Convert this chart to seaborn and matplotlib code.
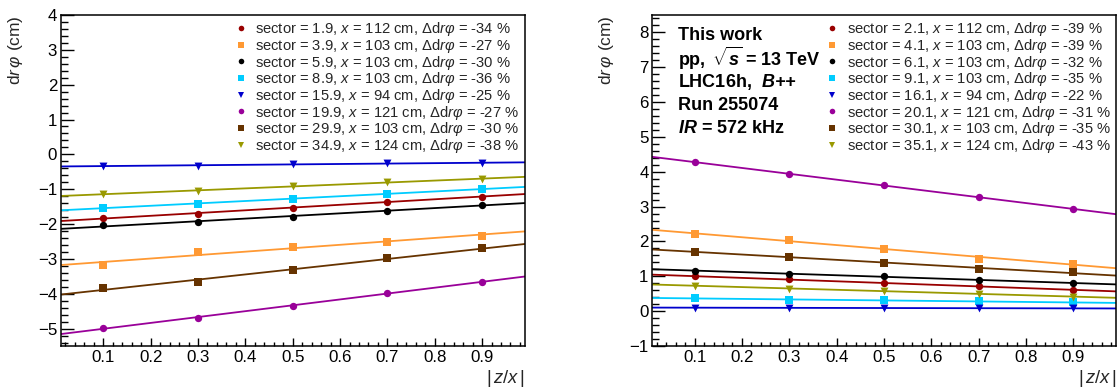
import numpy as np
import pandas as pd
import matplotlib
matplotlib.use("Agg")
import matplotlib.pyplot as plt
from matplotlib.lines import Line2D
from matplotlib.ticker import MultipleLocator, FixedLocator
import seaborn as sns

sns.set_theme(style="white")
plt.rcParams['font.family'] = ['Liberation Sans', 'DejaVu Sans']
plt.rcParams['mathtext.fontset'] = 'custom'
plt.rcParams['mathtext.rm'] = 'Liberation Sans'
plt.rcParams['mathtext.it'] = 'Liberation Sans:italic'
plt.rcParams['mathtext.bf'] = 'Liberation Sans:bold'
plt.rcParams['mathtext.bfit'] = 'Liberation Sans:bold:italic'
plt.rcParams['axes.unicode_minus'] = True

# ---------------- data ----------------
z_over_x = [0.1, 0.3, 0.5, 0.7, 0.9]

left_sectors = ["1.9", "3.9", "5.9", "8.9", "15.9", "19.9", "29.9", "34.9"]
left_radius = [112, 103, 103, 103, 94, 121, 103, 124]
left_delta = [-34, -27, -30, -36, -25, -27, -30, -38]
left_s1 = [-1.83, -1.70, -1.53, -1.36, -1.21]
left_s2 = [-3.17, -2.80, -2.66, -2.51, -2.33]
left_s3 = [-2.04, -1.93, -1.81, -1.62, -1.44]
left_s4 = [-1.53, -1.42, -1.28, -1.13, -0.99]
left_s5 = [-0.33, -0.32, -0.29, -0.26, -0.24]
left_s6 = [-4.98, -4.69, -4.36, -3.98, -3.65]
left_s7 = [-3.83, -3.66, -3.33, -2.98, -2.69]
left_s8 = [-1.15, -1.04, -0.90, -0.80, -0.71]

right_sectors = ["2.1", "4.1", "6.1", "9.1", "16.1", "20.1", "30.1", "35.1"]
right_radius = [112, 103, 103, 103, 94, 121, 103, 124]
right_delta = [-39, -39, -32, -35, -22, -31, -35, -43]
right_s1 = [1.00, 0.91, 0.81, 0.71, 0.61]
right_s2 = [2.22, 2.04, 1.79, 1.51, 1.36]
right_s3 = [1.16, 1.07, 1.00, 0.90, 0.80]
right_s4 = [0.37, 0.33, 0.31, 0.28, 0.25]
right_s5 = [0.10, 0.095, 0.09, 0.085, 0.08]
right_s6 = [4.27, 3.95, 3.61, 3.27, 2.93]
right_s7 = [1.71, 1.55, 1.39, 1.22, 1.11]
right_s8 = [0.73, 0.65, 0.58, 0.49, 0.42]

info_lines = ["This work", r"pp, $\,\sqrt{\mathbfit{s}}$ = 13 TeV",
              r"LHC16h,  $\mathbfit{B{+}{+}}$", "Run 255074",
              r"$\mathbfit{IR}$ = 572 kHz"]

# ---------------- style ----------------
colors = ['#990000', '#ff9933', '#000000', '#00ccff', '#0000cc', '#990099', '#663300', '#999900']
markers = ['o', 's', 'o', 's', 'v', 'o', 's', 'v']
msizes = {'o': 28, 's': 32, 'v': 32}
lsizes = {'o': 4.0, 's': 4.6, 'v': 4.4}

W, H = 1118, 387
fig = plt.figure(figsize=(W / 100, H / 100), dpi=100)
axL = fig.add_axes([60.7 / W, (H - 346) / H, 464 / W, 331 / H])
axR = fig.add_axes([652 / W, (H - 346) / H, 464 / W, 331 / H])


def panel(ax, sectors, radius, delta, series, ylim):
    ax.set_xlim(0.01, 0.99)
    ax.set_ylim(*ylim)
    handles = []
    for i, vals in enumerate(series):
        df = pd.DataFrame({"z": z_over_x, "d": vals})
        sns.regplot(data=df, x="z", y="d", ax=ax, scatter=False, ci=None,
                    truncate=False, color=colors[i], line_kws=dict(lw=1.3))
        sns.scatterplot(data=df, x="z", y="d", ax=ax, color=colors[i],
                        marker=markers[i], s=msizes[markers[i]], linewidth=0,
                        zorder=5, legend=False)
        lab = (f"sector = {sectors[i]}, $x$ = {radius[i]} cm, "
               f"$\\Delta$d$r\\varphi$ = {delta[i]} %")
        handles.append(Line2D([], [], ls='none', marker=markers[i], color=colors[i],
                              markeredgewidth=0, markersize=lsizes[markers[i]], label=lab))
    ax.set_xlim(0.01, 0.99)
    ax.set_ylim(*ylim)
    ax.xaxis.set_major_locator(FixedLocator([0.1, 0.2, 0.3, 0.4, 0.5, 0.6, 0.7, 0.8, 0.9]))
    ax.xaxis.set_minor_locator(MultipleLocator(0.02))
    ax.yaxis.set_major_locator(MultipleLocator(1))
    ax.yaxis.set_minor_locator(MultipleLocator(0.2))
    ax.tick_params(axis='both', which='both', direction='in', top=False, right=False,
                   left=True, bottom=True, labelsize=12.2, color='black',
                   labelcolor='black', width=1)
    ax.tick_params(axis='y', which='major', length=9.4, pad=2.5)
    ax.tick_params(axis='y', which='minor', length=4.8)
    ax.tick_params(axis='x', which='major', length=5.8, pad=3)
    ax.tick_params(axis='x', which='minor', length=3.0)
    for sp in ax.spines.values():
        sp.set_color('black')
        sp.set_linewidth(1.1)
    ax.set_xlabel(r"$|\,z/x\,|$", fontsize=13.2, ha='right', va='top')
    ax.xaxis.set_label_coords(1.0, -0.066)
    ax.set_ylabel(r"d$r\,\varphi$ (cm)", fontsize=12.5, ha='right', va='bottom')
    ax.yaxis.set_label_coords(-0.078, 1.0)
    ax.legend(handles=handles, loc='upper right', bbox_to_anchor=(1.0, 1.0),
              frameon=False, fontsize=10.6, handlelength=0.8, handletextpad=0.6,
              labelspacing=-0.09, borderaxespad=0.15, borderpad=0.2)


panel(axL, left_sectors, left_radius, left_delta,
      [left_s1, left_s2, left_s3, left_s4, left_s5, left_s6, left_s7, left_s8], (-5.5, 4))
panel(axR, right_sectors, right_radius, right_delta,
      [right_s1, right_s2, right_s3, right_s4, right_s5, right_s6, right_s7, right_s8], (-1, 8.5))

for k, line in enumerate(info_lines):
    axR.text(0.057, 0.939 - k * 0.0705, line, transform=axR.transAxes, fontsize=13.0,
             fontweight='bold', va='center', ha='left', color='black')

fig.savefig("out.png", dpi=100)
